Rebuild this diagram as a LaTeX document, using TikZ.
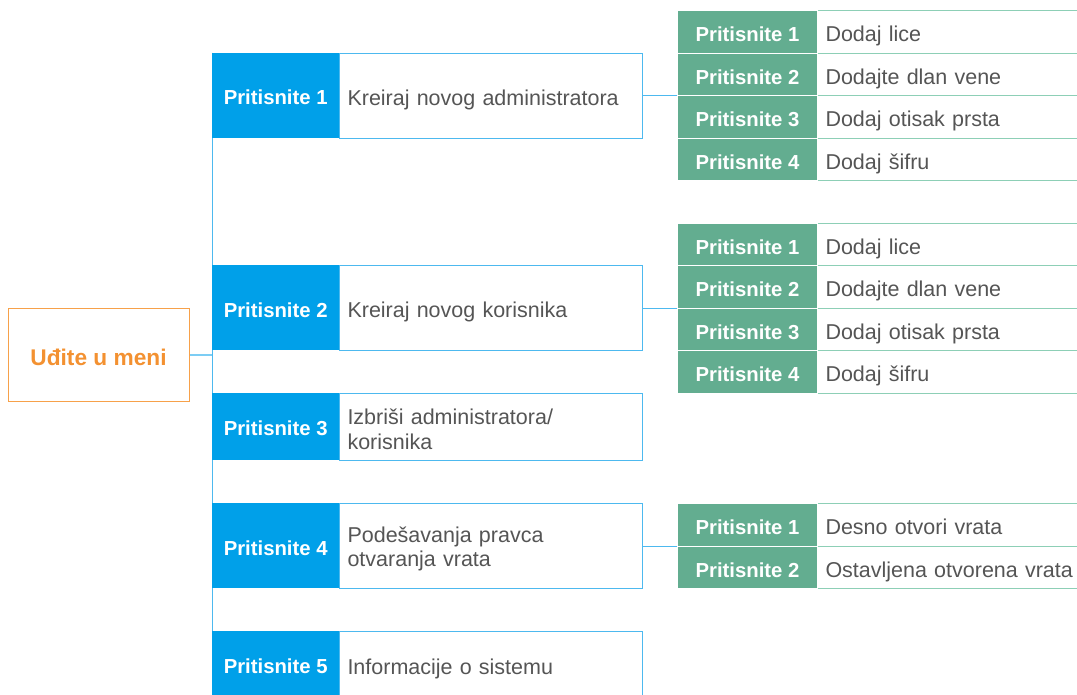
\documentclass[tikz,border=0pt]{standalone}
\usepackage{fontspec}
\setmainfont{Liberation Sans}
\usetikzlibrary{backgrounds}
\definecolor{cblue}{HTML}{00A0E9}
\definecolor{cblueline}{HTML}{4DB9EF}
\definecolor{crootline}{HTML}{7CCDF4}
\definecolor{cgreen}{HTML}{63AD90}
\definecolor{cgreenline}{HTML}{8DCFB6}
\definecolor{corange}{HTML}{F39131}
\definecolor{corangeline}{HTML}{F7A14A}
\definecolor{ctext}{HTML}{555555}
\tikzset{
  keyfont/.style={font=\fontsize{20.3}{24}\selectfont\bfseries},
  descfont/.style={font=\fontsize{21.5}{24.5}\selectfont},
  keybox/.style={keyfont, fill=cblue, text=white, inner sep=0pt, minimum width=127pt,
    anchor=north west, text height=19pt, text depth=0pt},
  descbox/.style={descfont, draw=cblueline, line width=1pt, fill=white, text=ctext,
    inner xsep=8pt, inner ysep=0pt, text width=287pt, align=left, anchor=north west,
    text height=19pt, text depth=0pt},
  twoline/.style={text height={}, text depth={}},
  gkey/.style={keyfont, fill=cgreen, draw=white, line width=1pt, text=white, inner sep=0pt,
    minimum width=140pt, minimum height=42.5pt, anchor=north west, text height=20pt, text depth=0pt},
  gdesc/.style={descfont, draw=cgreenline, line width=1pt, fill=white, text=ctext,
    inner xsep=8pt, inner ysep=0pt, text width=262pt, align=left, minimum height=42.5pt,
    anchor=north west, text height=20pt, text depth=0pt},
  rootbox/.style={draw=corangeline, line width=1pt, text=corange, minimum width=181pt,
    minimum height=93pt, inner sep=0pt, font=\fontsize{22.7}{26}\selectfont\bfseries,
    text height=20pt, text depth=0pt},
  conn/.style={draw=cblueline, line width=1pt},
  rootconn/.style={draw=crootline, line width=1.5pt}
}
\begin{document}
\begin{tikzpicture}[x=1pt,y=-1pt]
\useasboundingbox (0,0) rectangle (1077,694);
\clip (0,0) rectangle (1077,694);

% root
\node[rootbox] (root) at (98.5,355) {Uđite u meni};

% level 1
\node[keybox, minimum height=85pt] (k1) at (212,52.5) {Pritisnite 1};
\node[descbox, minimum height=85pt] (d1) at (339,52.5) {Kreiraj novog administratora};
\node[keybox, minimum height=85pt] (k2) at (212,265) {Pritisnite 2};
\node[descbox, minimum height=85pt] (d2) at (339,265) {Kreiraj novog korisnika};
\node[keybox, minimum height=67.5pt] (k3) at (212,392.5) {Pritisnite 3};
\node[descbox, twoline, minimum height=67.5pt] (d3) at (339,392.5) {\rule{0pt}{21pt}Izbriši administratora/\\korisnika};
\node[keybox, minimum height=85pt] (k4) at (212,503) {Pritisnite 4};
\node[descbox, twoline, minimum height=85pt] (d4) at (339,503) {\rule{0pt}{21pt}Podešavanja pravca\\otvaranja vrata};
\node[keybox, minimum height=67.5pt] (k5) at (212,630.5) {Pritisnite 5};
\node[descbox, minimum height=67.5pt] (d5) at (339,630.5) {Informacije o sistemu};

% group A
\node[gdesc] (da1) at (817,10) {Dodaj lice};
\node[gdesc] (da2) at (817,52.5) {Dodajte dlan vene};
\node[gdesc] (da3) at (817,95) {Dodaj otisak prsta};
\node[gdesc] (da4) at (817,137.5) {Dodaj šifru};
\node[gkey] (ga1) at (677,10) {Pritisnite 1};
\node[gkey] (ga2) at (677,52.5) {Pritisnite 2};
\node[gkey] (ga3) at (677,95) {Pritisnite 3};
\node[gkey] (ga4) at (677,137.5) {Pritisnite 4};

% group B
\node[gdesc] (db1) at (817,222.5) {Dodaj lice};
\node[gdesc] (db2) at (817,265) {Dodajte dlan vene};
\node[gdesc] (db3) at (817,307.5) {Dodaj otisak prsta};
\node[gdesc] (db4) at (817,350) {Dodaj šifru};
\node[gkey] (gb1) at (677,222.5) {Pritisnite 1};
\node[gkey] (gb2) at (677,265) {Pritisnite 2};
\node[gkey] (gb3) at (677,307.5) {Pritisnite 3};
\node[gkey] (gb4) at (677,350) {Pritisnite 4};

% group C
\node[gdesc] (dc1) at (817,503) {Desno otvori vrata};
\node[gdesc] (dc2) at (817,545.5) {Ostavljena otvorena vrata};
\node[gkey] (gc1) at (677,503) {Pritisnite 1};
\node[gkey] (gc2) at (677,545.5) {Pritisnite 2};

% connectors
\begin{scope}[on background layer]
  \draw[conn] (k1.north west) -- (k5.south west);
  \draw[rootconn] (root.east) -- (root.east -| k1.west);
  \draw[conn] (d1.east) -- (d1.east -| ga1.west);
  \draw[conn] (d2.east) -- (d2.east -| gb1.west);
  \draw[conn] (d4.east) -- (d4.east -| gc1.west);
\end{scope}
\end{tikzpicture}
\end{document}
